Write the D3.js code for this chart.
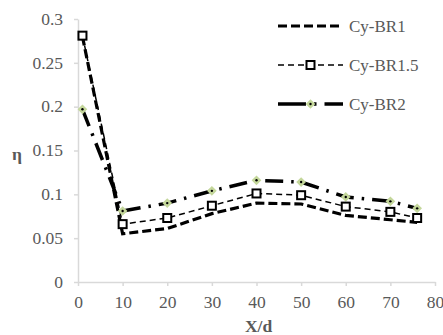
<!DOCTYPE html>
<html>
<head>
<meta charset="utf-8">
<script src="https://cdn.jsdelivr.net/npm/d3@7"></script>
<style>
  body { margin: 0; background: #fff; }
</style>
</head>
<body>
<div id="chart"></div>
<script>
// chart data
var xPos = [1, 10, 20, 30, 40, 50, 60, 70, 76];
var br1 = [0.280, 0.055, 0.061, 0.078, 0.090, 0.089, 0.076, 0.071, 0.068];
var br15 = [0.281, 0.066, 0.073, 0.087, 0.101, 0.099, 0.086, 0.080, 0.073];
var br2 = [0.197, 0.081, 0.090, 0.104, 0.116, 0.114, 0.097, 0.092, 0.084];
var seriesNames = ["Cy-BR1", "Cy-BR1.5", "Cy-BR2"];
var xTicks = [0, 10, 20, 30, 40, 50, 60, 70, 80];
var yTicks = [0, 0.05, 0.1, 0.15, 0.2, 0.25, 0.3];

var W = 443, H = 335;
var margin = {top: 19, right: 8, bottom: 53, left: 78};
var width = W - margin.left - margin.right,
    height = H - margin.top - margin.bottom;
var serif = "'Liberation Serif'";

var svg = d3.select("#chart").append("svg")
    .attr("width", W)
    .attr("height", H);

var g = svg.append("g")
    .attr("transform", "translate(" + margin.left + "," + margin.top + ")");

var x = d3.scaleLinear().domain([0, 80]).range([0, 357]);
var y = d3.scaleLinear().domain([0, 0.3]).range([height, 0]);

// axes
var xAxis = g.append("g")
    .attr("transform", "translate(0," + height + ")")
    .call(d3.axisBottom(x).tickValues(xTicks).tickSize(4).tickSizeOuter(0).tickFormat(d3.format("d")));
var yAxis = g.append("g")
    .call(d3.axisLeft(y).tickValues(yTicks).tickSize(4).tickSizeOuter(0)
      .tickFormat(function(d) { return d === 0 ? "0" : String(+d.toFixed(2)); }));

[xAxis, yAxis].forEach(function(a) {
  a.selectAll("path, line").attr("stroke", "#d9d9d9").attr("stroke-width", 1.5);
  a.selectAll("text").attr("fill", "#595959")
    .style("font-family", serif).style("font-size", "17.5px");
});
xAxis.selectAll("text").attr("y", 26).attr("dy", 0);
yAxis.selectAll("text").attr("x", -15).attr("dy", "0.3em");

var rows = function(vals) { return xPos.map(function(xv, i) { return [xv, vals[i]]; }); };
var line = d3.line().x(function(d) { return x(d[0]); }).y(function(d) { return y(d[1]); });

// Cy-BR1
g.append("path").datum(rows(br1))
    .attr("d", line).attr("fill", "none")
    .attr("stroke", "#000").attr("stroke-width", 3.2)
    .attr("stroke-dasharray", "9,4");

// Cy-BR2
g.append("path").datum(rows(br2))
    .attr("d", line).attr("fill", "none")
    .attr("stroke", "#000").attr("stroke-width", 3.5)
    .attr("stroke-dasharray", "18,8,2.5,8");

// Cy-BR1.5
g.append("path").datum(rows(br15))
    .attr("d", line).attr("fill", "none")
    .attr("stroke", "#000").attr("stroke-width", 1.5)
    .attr("stroke-dasharray", "6,4");

var diamond = d3.symbol().type(d3.symbolDiamond2).size(60);

g.selectAll(".dm").data(rows(br2)).enter().append("path")
    .attr("class", "dm")
    .attr("d", diamond)
    .attr("transform", function(d) { return "translate(" + x(d[0]) + "," + y(d[1]) + ")"; })
    .attr("fill", "#c4d79b");
g.selectAll(".dd").data(rows(br2)).enter().append("circle")
    .attr("class", "dd")
    .attr("cx", function(d) { return x(d[0]); })
    .attr("cy", function(d) { return y(d[1]); })
    .attr("r", 1.2).attr("fill", "#000");

g.selectAll(".sq").data(rows(br15)).enter().append("rect")
    .attr("class", "sq")
    .attr("x", function(d) { return x(d[0]) - 4; })
    .attr("y", function(d) { return y(d[1]) - 4; })
    .attr("width", 8).attr("height", 8)
    .attr("fill", "#fff").attr("stroke", "#000").attr("stroke-width", 2);

// axis titles
svg.append("text")
    .attr("x", 17).attr("y", 160)
    .attr("text-anchor", "middle")
    .style("font-family", serif)
    .style("font-size", "17.5px").style("font-weight", "bold")
    .attr("fill", "#595959")
    .text("η");
svg.append("text")
    .attr("x", margin.left + x(40) + 2).attr("y", 332)
    .attr("text-anchor", "middle")
    .style("font-family", serif)
    .style("font-size", "17.5px").style("font-weight", "bold")
    .attr("fill", "#595959")
    .text("X/d");

// legend
var legY = [26, 65, 104];
var lx1 = 278, lx2 = 343;
var leg = svg.append("g");
leg.append("line").attr("x1", lx1).attr("x2", lx2).attr("y1", legY[0]).attr("y2", legY[0])
    .attr("stroke", "#000").attr("stroke-width", 3.2).attr("stroke-dasharray", "9,4");
leg.append("line").attr("x1", lx1).attr("x2", lx2).attr("y1", legY[1]).attr("y2", legY[1])
    .attr("stroke", "#000").attr("stroke-width", 1.5).attr("stroke-dasharray", "6,4");
leg.append("rect").attr("x", (lx1 + lx2) / 2 - 4).attr("y", legY[1] - 4)
    .attr("width", 8).attr("height", 8)
    .attr("fill", "#fff").attr("stroke", "#000").attr("stroke-width", 2);
leg.append("line").attr("x1", lx1).attr("x2", lx2).attr("y1", legY[2]).attr("y2", legY[2])
    .attr("stroke", "#000").attr("stroke-width", 3.5).attr("stroke-dasharray", "28,8,2.5,8");
leg.append("path").attr("d", diamond)
    .attr("transform", "translate(" + ((lx1 + lx2) / 2) + "," + legY[2] + ")")
    .attr("fill", "#c4d79b");
leg.append("circle").attr("cx", (lx1 + lx2) / 2).attr("cy", legY[2]).attr("r", 1.2).attr("fill", "#000");

leg.selectAll(".lt").data(seriesNames).enter().append("text")
    .attr("x", 349)
    .attr("y", function(d, i) { return legY[i] + 6; })
    .style("font-family", serif)
    .style("font-size", "17px")
    .attr("fill", "#595959")
    .text(function(d) { return d; });
</script>
</body>
</html>
